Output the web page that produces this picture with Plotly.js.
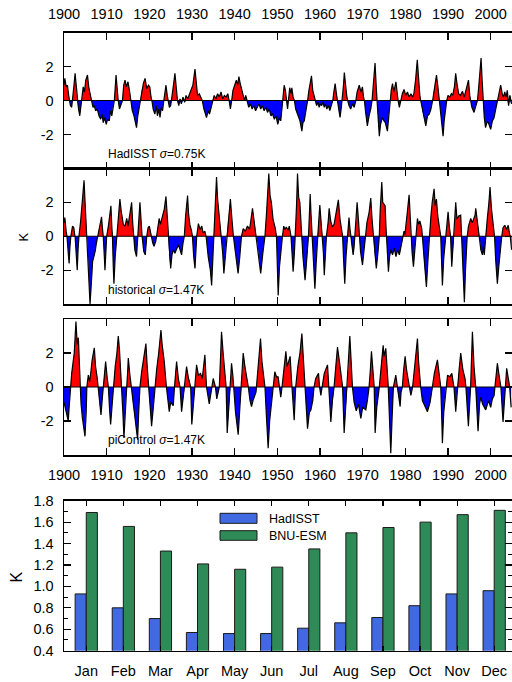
<!DOCTYPE html>
<html>
<head>
<meta charset="utf-8">
<script src="https://cdn.plot.ly/plotly-3.0.1.min.js"></script>
<style>html,body{margin:0;padding:0;background:#fff;}#chart{width:512px;height:682px;}</style>
</head>
<body>
<div id="chart"></div>
<script>
// ---------- data ----------
const yearTicks = [1900,1910,1920,1930,1940,1950,1960,1970,1980,1990,2000];
const yearLabels = ['1900','1910','1920','1930','1940','1950','1960','1970','1980','1990','2000'];
const kTicks = [-2,0,2];
const kLabels = ['-2','0','2'];

const hadYear = [
1900.0,1900.2,1900.5,1900.8,1901.1,1901.3,1901.5,1901.8,1902.0,1902.3,
1902.6,1902.9,1903.1,1903.4,1903.7,1904.0,1904.2,1904.5,1904.8,1905.1,
1905.5,1905.8,1906.2,1906.5,1906.8,1907.1,1907.4,1907.8,1908.2,1908.6,
1908.9,1909.2,1909.5,1909.9,1910.2,1910.6,1910.9,1911.2,1911.5,1911.8,
1912.2,1912.5,1912.7,1913.0,1913.4,1913.7,1914.0,1914.3,1914.6,1915.0,
1915.4,1915.7,1916.0,1916.4,1916.8,1917.0,1917.3,1917.6,1917.9,1918.2,
1918.6,1919.0,1919.4,1919.8,1920.1,1920.4,1920.6,1920.9,1921.3,1921.6,
1921.9,1922.2,1922.5,1922.8,1923.1,1923.4,1923.7,1923.9,1924.2,1924.4,
1924.7,1925.0,1925.2,1925.6,1926.0,1926.3,1926.6,1926.9,1927.2,1927.5,
1927.9,1928.3,1928.6,1929.0,1929.4,1929.8,1930.2,1930.7,1931.0,1931.3,
1931.7,1932.1,1932.4,1932.8,1933.1,1933.4,1933.8,1934.1,1934.5,1934.8,
1935.2,1935.6,1936.0,1936.4,1936.8,1937.2,1937.6,1938.0,1938.4,1938.7,
1939.0,1939.3,1939.6,1940.0,1940.4,1940.7,1941.0,1941.3,1941.6,1942.0,
1942.3,1942.6,1942.9,1943.3,1943.7,1944.1,1944.5,1944.9,1945.3,1945.7,
1946.1,1946.5,1946.9,1947.3,1947.7,1948.1,1948.5,1948.9,1949.3,1949.7,
1950.1,1950.5,1950.8,1951.1,1951.3,1951.6,1951.9,1952.1,1952.4,1952.6,
1952.9,1953.2,1953.4,1953.7,1954.0,1954.3,1954.7,1955.0,1955.3,1955.75,
1956.0,1956.3,1956.6,1956.9,1957.1,1957.4,1957.8,1958.0,1958.3,1958.6,
1958.9,1959.2,1959.5,1959.8,1960.1,1960.4,1960.7,1961.0,1961.3,1961.6,
1962.0,1962.3,1962.7,1963.0,1963.3,1963.55,1963.9,1964.1,1964.4,1964.7,
1965.0,1965.2,1965.5,1965.7,1966.0,1966.3,1966.5,1966.8,1967.2,1967.6,
1968.0,1968.4,1968.7,1969.2,1969.6,1969.95,1970.2,1970.4,1970.7,1971.1,
1971.5,1971.9,1972.2,1972.5,1972.9,1973.2,1973.4,1973.65,1973.9,1974.2,
1974.6,1975.0,1975.3,1975.8,1976.1,1976.4,1976.7,1977.0,1977.3,1977.8,
1978.1,1978.3,1978.6,1978.9,1979.3,1979.7,1980.1,1980.5,1980.9,1981.3,
1981.7,1982.0,1982.4,1982.8,1983.1,1983.4,1983.6,1984.0,1984.4,1984.8,
1985.2,1985.6,1986.0,1986.4,1986.7,1987.0,1987.3,1987.6,1987.9,1988.0,
1988.3,1988.6,1988.85,1989.1,1989.4,1989.7,1990.0,1990.4,1990.8,1991.1,
1991.5,1991.8,1992.1,1992.5,1992.9,1993.4,1993.8,1994.2,1994.8,1995.1,
1995.3,1995.6,1996.1,1996.5,1996.9,1997.2,1997.5,1997.75,1998.0,1998.2,
1998.5,1998.8,1999.2,1999.6,2000.0,2000.4,2000.8,2001.2,2001.6,2002.0,
2002.35,2002.7,2003.0,2003.3,2003.6,2003.9,2004.2,2004.5,2004.9];
const hadK = [
0.9,1.3,0.8,0.9,0.3,0,-0.3,-0.4,0,0.8,
1.6,0.7,0,-0.5,-0.9,-0.3,0,0.8,0.5,1.2,
1.5,0.8,0.3,0,-0.4,-0.3,-0.6,-0.5,-0.9,-1.1,
-0.8,-1.3,-1.0,-1.4,-1.1,-1.2,-0.6,-0.9,-0.3,0,
1.5,0.5,0,-0.5,-0.2,0,0.9,1.2,0.8,1.1,
0.5,0,-0.6,-0.9,-1.4,-1.6,-0.9,-0.4,0,0.6,
1.0,1.3,0.7,0.9,0.8,0.2,0,-0.5,-0.8,-0.3,
-0.9,-0.5,-1.0,-0.4,-0.6,0,0.5,0.9,0.3,0,
-0.4,-0.3,0,0.8,1.6,0.6,0,-0.3,0.1,-0.2,
0.2,-0.1,0.3,0.1,0.4,0.6,0.9,1.85,0.9,0.3,
0.4,0.2,0,-0.5,-0.8,-1.0,-0.6,-0.8,-0.4,0,
0.3,0.1,0.4,0.2,0.5,0.1,0.3,0.2,0.4,0,
-0.5,0,0.6,0.9,1.2,0.9,1.4,1.0,0.6,0.3,
0,0.3,0,-0.4,-0.2,-0.5,-0.3,-0.6,-0.4,-0.2,
-0.5,-0.3,-0.6,-0.4,-0.7,-0.5,-0.9,-0.8,-1.1,-0.9,
-1.4,-1.0,-1.2,-0.5,0,0.9,0.6,0,-0.5,0,
0.75,0.4,0.75,0.2,0,-0.5,-0.8,-1.0,-1.2,-1.8,
-1.3,-1.2,-0.8,-0.3,0,0.6,1.1,1.45,0.6,0.2,
0,-0.3,-0.1,-0.4,-0.2,-0.3,-0.1,-0.4,-0.2,-0.5,
-0.3,-0.6,-0.3,0,0.6,1.0,0.3,0,-0.6,-1.0,
-0.4,0,0.9,1.65,0.8,0.2,0,-0.3,-0.5,-0.2,
-0.4,0,0.5,0.9,0.5,0.8,0.2,0,-0.7,-1.5,
-0.9,-0.5,0,0.8,2.2,0.7,0,-1.2,-2.1,-1.4,
-1.0,-1.2,-1.3,-1.8,-1.0,0,0.6,1.0,0.5,1.1,
0.2,0,-0.4,0,0.4,0.65,0.3,0.5,0.2,0.4,
0.2,0.4,1.2,2.4,1.1,0.3,0,-0.6,-1.0,-1.5,
-0.9,-0.8,-0.5,0,0.6,1.1,1.5,0.9,0.2,0,
-0.8,-1.6,-2.1,-1.2,-0.5,0,0.3,0.2,0.4,0.3,
0.8,1.6,1.0,0.4,0.3,0.54,0.2,0.6,1.2,0.3,
0,-0.4,-0.7,-0.3,0,0.8,1.6,2.5,1.2,0,
-1.0,-1.6,-1.2,-1.4,-1.7,-1.2,-1.0,-0.5,0,0.5,
0.9,0.4,0.2,0.5,0.2,0.6,-0.3,0.3,-0.2];

const histYear = [
1900.0,1900.2,1900.5,1900.7,1901.0,1901.2,1901.4,1901.6,1902.0,1902.3,
1902.5,1902.6,1902.9,1903.1,1903.3,1903.5,1903.9,1904.2,1904.5,1904.7,
1904.9,1905.2,1905.4,1905.7,1905.9,1906.1,1906.4,1906.7,1907.0,1907.3,
1907.6,1907.9,1908.3,1908.6,1908.8,1909.0,1909.2,1909.45,1909.6,1909.8,
1910.0,1910.4,1910.7,1911.0,1911.2,1911.35,1911.55,1911.7,1912.0,1912.3,
1912.45,1912.8,1913.1,1913.4,1913.7,1913.9,1914.3,1914.7,1915.0,1915.4,
1915.85,1916.1,1916.3,1916.6,1917.0,1917.3,1917.6,1917.8,1918.1,1918.3,
1918.7,1919.05,1919.4,1919.7,1920.0,1920.3,1920.5,1920.8,1921.1,1921.5,
1921.7,1922.0,1922.3,1922.6,1923.0,1923.5,1923.9,1924.2,1924.4,1924.7,
1925.0,1925.3,1925.6,1926.0,1926.4,1926.8,1927.2,1927.56,1927.9,1928.2,
1928.5,1928.96,1929.2,1929.5,1929.9,1930.1,1930.4,1930.7,1931.0,1931.1,
1931.5,1931.9,1932.3,1932.6,1933.0,1933.3,1933.8,1934.3,1934.6,1934.9,
1935.1,1935.4,1935.75,1936.0,1936.4,1936.8,1936.9,1937.2,1937.47,1937.8,
1938.1,1938.5,1939.0,1939.3,1939.6,1939.7,1940.2,1940.8,1941.2,1941.6,
1942.0,1942.5,1943.0,1943.5,1944.18,1944.6,1945.0,1945.1,1945.6,1946.1,
1946.6,1947.1,1947.5,1948.0,1948.3,1948.6,1949.0,1949.5,1949.8,1950.0,
1950.2,1950.5,1950.8,1951.1,1951.2,1951.5,1951.8,1952.1,1952.5,1952.8,
1953.1,1953.2,1953.5,1953.7,1954.0,1954.2,1954.5,1954.73,1955.0,1955.28,
1955.5,1955.7,1956.0,1956.5,1956.9,1957.3,1957.5,1957.7,1957.9,1958.2,
1958.5,1958.8,1959.1,1959.4,1959.7,1959.96,1960.3,1960.6,1960.8,1961.0,
1961.3,1961.5,1961.9,1962.15,1962.5,1962.9,1963.3,1963.6,1964.0,1964.3,
1964.7,1965.1,1965.3,1965.55,1965.8,1966.1,1966.4,1966.6,1966.8,1967.0,
1967.2,1967.5,1967.77,1968.0,1968.2,1968.5,1968.7,1969.0,1969.2,1969.5,
1969.96,1970.3,1970.7,1971.0,1971.5,1971.9,1972.2,1972.5,1972.8,1973.2,
1973.6,1973.9,1974.1,1974.48,1974.7,1975.26,1975.5,1975.6,1975.8,1976.04,
1976.3,1976.6,1977.0,1977.4,1977.8,1978.2,1978.6,1979.0,1979.3,1979.5,
1979.7,1979.9,1980.1,1980.5,1980.88,1981.1,1981.3,1981.6,1981.9,1982.2,
1982.5,1982.7,1982.84,1983.1,1983.4,1983.85,1984.0,1984.4,1984.94,1985.3,
1985.6,1986.0,1986.3,1986.74,1987.0,1987.29,1987.6,1988.0,1988.3,1988.5,
1988.69,1989.0,1989.5,1989.8,1990.02,1990.3,1990.6,1990.88,1991.2,1991.4,
1991.6,1991.81,1992.1,1992.5,1992.98,1993.2,1993.5,1993.84,1994.1,1994.5,
1994.8,1995.33,1995.7,1996.34,1996.5,1996.8,1997.2,1997.4,1997.7,1998.06,
1998.3,1998.5,1998.8,1999.2,1999.6,1999.85,2000.2,2000.6,2000.9,2001.2,
2001.57,2001.9,2002.3,2002.6,2002.9,2003.3,2003.7,2004.1,2004.4,2004.6,
2004.9];
const histK = [
0.8,1.1,0.3,0,-1.0,-1.6,-0.6,0,0.6,0.5,
0.1,0,-1.2,-2.0,-0.8,0,0.9,1.8,2.8,3.3,
2.2,0.8,0,-1.6,-3.0,-4.0,-2.8,-1.5,-1.2,-0.9,
-0.4,0,0.6,0.8,1.15,0.5,0,-1.2,-2.0,-1.0,
0,0.6,1.2,1.8,0.6,0,-1.8,-2.8,-1.2,-0.3,
0,1.3,2.2,1.5,1.1,0.7,0.6,1.05,0.6,1.2,
2.0,0.8,0,-0.8,-1.2,0,1.3,2.0,0.8,0,
-0.9,-1.1,0,0.5,0.6,0.2,0,-0.4,-0.6,-0.3,
0,0.6,1.05,0.7,1.1,1.6,2.35,1.2,0,-1.3,
-1.9,-1.1,-0.8,-1.0,-0.7,-0.5,-0.8,-1.1,-0.4,0,
1.2,2.4,1.3,0.7,0.3,0,-1.2,-1.9,-0.5,0,
0.75,0.4,0.6,0.2,0.3,0,-1.2,-2.0,-2.9,-1.3,
0,1.6,3.5,2.2,1.2,0.3,0,-1.0,-2.2,-1.2,
0,1.0,2.2,1.2,0.2,0,-1.0,-2.2,-1.2,0,
0.45,0.3,0.6,0.4,1.65,0.8,0.3,0,-1.0,-2.2,
-1.0,0,1.5,3.7,2.4,2.0,1.0,0.5,0,-1.5,
-3.5,-1.8,-0.9,-0.3,0,0.6,0.4,0.55,0.35,0.6,
0.2,0,-1.2,-2.1,-1.0,0,1.8,3.7,2.3,2.0,
0.8,0,-1.2,-2.6,-1.5,0,1.2,2.5,1.3,0,
-1.5,-3.1,-1.6,0,0.9,1.85,0.8,0,-1.0,-2.3,
-1.0,0,0.8,1.65,0.9,0.55,0.7,1.2,1.6,2.15,
1.0,0.3,0,-1.5,-2.8,-1.2,0,0.6,1.1,0.5,
0,-0.7,-1.1,-0.6,0,1.0,2.0,1.0,0,-0.9,
-1.7,-0.8,0,0.8,1.4,2.25,1.0,0,-1.0,-1.9,
-0.9,0,1.5,3.2,2.0,1.8,0.4,0,-1.2,-2.1,
-1.2,-0.8,-1.1,-0.7,-1.2,-0.8,-1.1,-0.6,-0.3,0,
0.3,0.1,0.5,1.5,2.45,1.2,0,-1.0,-1.8,-0.8,
0,0.6,1.05,0.7,0.9,0.45,0,-1.5,-3.0,-1.4,
0,1.2,2.0,2.8,1.8,2.2,1.2,0.5,0,-1.5,
-2.9,-1.3,0,0.8,1.45,0.6,0,-1.8,-0.5,0,
1.0,2.0,1.0,1.2,1.25,0,-2.0,-3.9,-2.0,0,
0.6,1.05,0.8,1.25,1.65,1.0,0.3,0,-0.8,-1.1,
-0.6,-1.1,0,1.0,2.0,2.9,1.6,0.8,0,-1.5,
-2.8,-1.8,-0.5,0,0.5,0.65,0.4,0.65,0.2,0,
-0.8];

const piYear = [
1900.0,1900.3,1900.7,1901.0,1901.2,1901.5,1901.8,1902.0,1902.4,1902.8,
1903.1,1903.36,1903.6,1903.75,1904.0,1904.3,1904.6,1904.92,1905.2,1905.35,
1905.7,1906.0,1906.3,1906.6,1907.1,1907.4,1907.8,1908.0,1908.3,1908.67,
1909.0,1909.2,1909.5,1909.76,1910.1,1910.4,1910.7,1910.93,1911.3,1911.6,
1912.0,1912.4,1912.72,1913.0,1913.3,1913.5,1913.8,1914.05,1914.4,1914.7,
1914.9,1915.07,1915.4,1915.8,1916.2,1916.7,1917.25,1917.5,1917.8,1918.2,
1918.7,1919.2,1919.5,1919.8,1920.2,1920.53,1920.9,1921.3,1921.7,1922.2,
1922.72,1923.0,1923.5,1924.0,1924.67,1925.0,1925.6,1925.9,1926.1,1926.39,
1926.8,1927.2,1927.56,1928.0,1928.3,1928.73,1929.1,1929.45,1929.7,1929.95,
1930.4,1930.7,1931.07,1931.5,1932.0,1932.4,1933.02,1933.3,1933.4,1934.04,
1934.5,1934.7,1934.97,1935.3,1935.5,1935.8,1936.1,1936.4,1936.7,1936.92,
1937.3,1937.7,1938.0,1938.25,1938.6,1939.0,1939.27,1939.6,1939.8,1940.2,
1940.83,1941.2,1941.6,1942.0,1942.4,1942.9,1943.2,1943.6,1943.95,1944.3,
1944.73,1945.0,1945.1,1945.5,1946.06,1946.4,1946.8,1947.1,1947.5,1947.85,
1948.2,1948.6,1949.0,1949.41,1949.8,1950.19,1950.5,1950.8,1951.1,1951.5,
1952.0,1952.3,1953.0,1953.3,1953.45,1953.8,1953.95,1954.2,1954.3,1954.8,
1955.3,1955.75,1956.1,1956.5,1957.08,1957.5,1957.86,1958.3,1958.6,1959.0,
1959.65,1959.9,1960.2,1960.5,1961.0,1961.76,1962.0,1962.1,1962.54,1962.9,
1963.3,1963.7,1964.1,1964.6,1965.0,1965.3,1965.66,1966.0,1966.4,1966.7,
1966.99,1967.3,1967.6,1968.0,1968.5,1969.0,1969.57,1970.0,1970.74,1971.1,
1971.5,1971.8,1972.06,1972.4,1972.7,1972.92,1973.3,1973.9,1974.3,1974.8,
1975.0,1975.42,1975.7,1976.0,1976.3,1976.59,1976.9,1977.2,1977.76,1978.0,
1978.1,1978.78,1979.0,1979.3,1979.6,1979.95,1980.3,1980.6,1980.9,1981.3,
1981.7,1982.2,1982.84,1983.1,1983.4,1983.6,1984.0,1985.18,1985.8,1986.4,
1986.8,1987.52,1988.0,1988.3,1988.5,1988.69,1989.0,1989.5,1989.9,1990.4,
1990.9,1991.2,1991.4,1991.81,1992.2,1992.6,1992.98,1993.5,1994.0,1994.2,
1994.78,1995.1,1995.3,1995.72,1996.1,1996.5,1997.04,1997.4,1997.7,1998.1,
1998.84,1999.5,2000.0,2000.4,2000.8,2001.0,2001.57,2001.9,2002.4,2002.9,
2003.3,2003.45,2003.75,2004.2,2004.45,2004.8];
const piK = [
-0.9,-1.3,-1.6,-2.0,-1.2,0,0.8,1.2,2.0,3.85,
2.5,2.9,1.0,0,-1.0,-1.8,-2.4,-2.9,-1.5,0,
0.7,0.3,0.9,1.6,2.3,1.2,0.5,0,-0.9,-1.65,
-0.6,0,0.9,1.5,0.6,0,-1.4,-2.2,-1.0,0,
1.2,2.0,3.0,2.2,1.0,0,-1.5,-3.0,-1.0,0,
0.8,1.7,0.8,0,-1.0,-2.0,-3.1,-1.5,0,0.9,
1.8,2.55,1.2,0,-1.2,-2.3,-1.3,0,1.0,2.0,
3.35,2.5,1.5,0,-1.45,-0.9,-1.1,0,0.8,1.5,
0.5,0,-1.45,-0.5,0,1.2,0.6,0.3,0,-2.2,
-0.8,0,1.3,0.7,0.8,0.5,1.9,0.5,0,-1.0,
-0.3,0,0.5,0.2,0,-0.7,-0.3,0,1.8,3.25,
2.0,0.9,0,-2.7,-1.3,0,1.4,0.6,0,-1.5,
-2.8,-1.2,0,2.0,1.2,0.5,0,-0.8,-1.15,-0.8,
-0.55,-0.3,0,1.2,2.85,1.5,0.6,0,-2.0,-3.6,
-2.0,-1.0,0,0.9,0.6,0.6,0,-0.6,0,1.0,
2.1,1.2,1.8,0.5,0,-1.2,-1.95,-0.5,0,1.2,
2.0,3.15,1.6,0,-2.45,-1.5,-1.35,-0.8,0,0.5,
0.8,0,-0.5,0,0.8,1.3,0.4,0,-2.05,-0.8,
0,1.2,2.35,1.4,0.6,0,-2.7,-1.2,0,1.5,
3.0,1.5,0,-0.9,-1.4,-1.0,-1.85,-1.2,-1.35,-0.8,
0,1.0,2.1,1.0,0,-2.7,-1.2,0,1.2,2.45,
1.8,2.27,1.2,0,-2.0,-3.9,-1.8,0,0.7,0.2,
0,-1.15,-0.3,0,1.0,1.8,1.0,0.6,0,-0.5,
0,1.2,2.85,1.5,0.5,0,-0.8,-1.45,-0.9,0,
0.8,1.6,0.6,0,-1.5,-3.3,-1.5,0,0.7,0.6,
0.8,0.3,0,-1.45,0,1.0,2.0,1.0,0.5,0,
-2.3,-0.8,0,3.25,1.2,0,-2.6,-1.0,-0.6,-1.0,
-1.35,-0.8,-1.2,-0.7,-0.5,0,1.4,0.8,0,-2.05,
-0.8,0,1.1,0.4,0,-1.2];

const months = ['Jan','Feb','Mar','Apr','May','Jun','Jul','Aug','Sep','Oct','Nov','Dec'];
const hadStd = [0.93,0.80,0.70,0.57,0.56,0.56,0.61,0.66,0.71,0.82,0.93,0.96];
const bnuStd = [1.69,1.56,1.33,1.21,1.16,1.18,1.35,1.50,1.55,1.60,1.67,1.71];
const barTicks = [0.4,0.6,0.8,1.0,1.2,1.4,1.6,1.8];
const panelNames = ['HadISST','historical','piControl'];
const panelSigma = ['0.75K','1.47K','1.47K'];

// ---------- layout helpers ----------
const H = 682, L = 64, PW = 448;
const py = p => 1 - p / H;
const px = p => (p - L) / PW;
const FONT = 'Liberation Sans, Arial, Helvetica, sans-serif';

const series = [[hadYear, hadK], [histYear, histK], [piYear, piK]];
const traces = [];
series.forEach((s, i) => {
  const ax = i === 0 ? '' : String(i + 1);
  const pos = s[1].map(v => Math.max(v, 0));
  const neg = s[1].map(v => Math.min(v, 0));
  traces.push({x: s[0], y: pos, xaxis: 'x' + ax, yaxis: 'y' + ax, type: 'scatter', mode: 'lines',
    fill: 'tozeroy', fillcolor: '#ff0000', line: {width: 0, color: '#ff0000'}, hoverinfo: 'skip'});
  traces.push({x: s[0], y: neg, xaxis: 'x' + ax, yaxis: 'y' + ax, type: 'scatter', mode: 'lines',
    fill: 'tozeroy', fillcolor: '#0000ff', line: {width: 0, color: '#0000ff'}, hoverinfo: 'skip'});
  traces.push({x: s[0], y: s[1], xaxis: 'x' + ax, yaxis: 'y' + ax, type: 'scatter', mode: 'lines',
    line: {width: 1.2, color: '#000'}, hoverinfo: 'skip'});
});
traces.push({x: months, y: hadStd, type: 'bar', xaxis: 'x4', yaxis: 'y4', name: 'HadISST',
  marker: {color: '#4169e1', line: {color: '#1a1a1a', width: 1}}});
traces.push({x: months, y: bnuStd, type: 'bar', xaxis: 'x4', yaxis: 'y4', name: 'BNU-ESM',
  marker: {color: '#2e8b57', line: {color: '#1a1a1a', width: 1}}});

const tsX = (extra) => Object.assign({
  range: [1900, 2005], tickvals: yearTicks, ticktext: yearLabels, ticks: 'inside', ticklen: 7,
  tickwidth: 1.2, tickcolor: '#000', mirror: 'allticks', showline: true, linecolor: '#000', linewidth: 1.5,
  showgrid: false, zeroline: false, tickfont: {size: 14.5, family: FONT, color: '#000'}, fixedrange: true
}, extra);
const tsY = (extra) => Object.assign({
  range: [-4, 4], tickvals: kTicks, ticktext: kLabels, ticks: 'inside', ticklen: 7,
  tickwidth: 1.2, tickcolor: '#000', mirror: 'allticks', showline: true, linecolor: '#000', linewidth: 1.5,
  showgrid: false, zeroline: false, tickfont: {size: 14.5, family: FONT, color: '#000'}, ticklabelstandoff: 6, fixedrange: true
}, extra);

const shapes = [];
['y', 'y2', 'y3'].forEach((ya, i) => {
  shapes.push({type: 'line', xref: (i === 0 ? 'x' : 'x' + (i + 1)) + ' domain', yref: ya, x0: 0, x1: 1, y0: 0, y1: 0,
    line: {color: '#000', width: 1}});
});
// legend swatches
shapes.push({type: 'rect', xref: 'paper', yref: 'paper', x0: px(220), x1: px(257), y0: py(523.3), y1: py(513.3),
  fillcolor: '#4169e1', line: {color: '#1a1a1a', width: 1}});
shapes.push({type: 'rect', xref: 'paper', yref: 'paper', x0: px(220), x1: px(257), y0: py(540.3), y1: py(530.7),
  fillcolor: '#2e8b57', line: {color: '#1a1a1a', width: 1}});

const annotations = [];
const labelY = [154, 290, 440];
panelNames.forEach((n, i) => {
  annotations.push({xref: 'paper', yref: 'paper', x: px(105.5), y: py(labelY[i]), xanchor: 'left', yanchor: 'middle',
    showarrow: false, text: n + ' <i>σ</i>=' + panelSigma[i], font: {size: 12, family: FONT, color: '#000'}});
});
annotations.push({xref: 'paper', yref: 'paper', x: px(266.5), y: py(518.5), xanchor: 'left', yanchor: 'middle',
  showarrow: false, text: 'HadISST', font: {size: 12.5, family: FONT, color: '#000'}});
annotations.push({xref: 'paper', yref: 'paper', x: px(266.5), y: py(535.5), xanchor: 'left', yanchor: 'middle',
  showarrow: false, text: 'BNU-ESM', font: {size: 12.5, family: FONT, color: '#000'}});
annotations.push({xref: 'paper', yref: 'paper', x: px(22.5), y: py(237), xanchor: 'center', yanchor: 'middle',
  showarrow: false, text: 'K', textangle: -90, font: {size: 13, family: FONT, color: '#000'}});
annotations.push({xref: 'paper', yref: 'paper', x: px(15.5), y: py(577), xanchor: 'center', yanchor: 'middle',
  showarrow: false, text: 'K', textangle: -90, font: {size: 16, family: FONT, color: '#000'}});

const layout = {
  width: 512, height: 682,
  margin: {l: L, r: 0, t: 0, b: 0, pad: 0},
  paper_bgcolor: '#fff', plot_bgcolor: '#fff',
  showlegend: false,
  font: {family: FONT, color: '#000'},
  barmode: 'group', bargap: 0.4, bargroupgap: 0,
  xaxis: tsX({anchor: 'y', side: 'top', ticklabelstandoff: 6}),
  yaxis: tsY({anchor: 'x', domain: [py(168.5), py(32.5)]}),
  xaxis2: tsX({anchor: 'y2', showticklabels: false}),
  yaxis2: tsY({anchor: 'x2', domain: [py(304), py(168.5)]}),
  xaxis3: tsX({anchor: 'y3', ticklabelstandoff: 6}),
  yaxis3: tsY({anchor: 'x3', domain: [py(455), py(319)]}),
  xaxis4: {anchor: 'y4', type: 'category', range: [-0.6, 11.48], ticks: 'inside', ticklen: 5, tickwidth: 1.2,
    tickcolor: '#000', mirror: 'allticks', showline: true, linecolor: '#000', linewidth: 1.5, showgrid: false,
    tickfont: {size: 14.5, family: FONT, color: '#000'}, ticklabelstandoff: 6, fixedrange: true},
  yaxis4: {anchor: 'x4', domain: [py(650.7), py(500.7)], range: [0.4, 1.8], tickvals: barTicks, tickformat: '.1f',
    ticks: 'inside', ticklen: 7, tickwidth: 1.2, tickcolor: '#000', mirror: 'allticks', showline: true,
    linecolor: '#000', linewidth: 1.5, showgrid: false, zeroline: false,
    minor: {dtick: 0.1, tick0: 0.4, ticks: 'inside', ticklen: 4, tickwidth: 1, tickcolor: '#000'},
    tickfont: {size: 14.5, family: FONT, color: '#000'}, ticklabelstandoff: 6, fixedrange: true},
  shapes: shapes,
  annotations: annotations
};

Plotly.newPlot('chart', traces, layout, {staticPlot: true, displayModeBar: false});
</script>
</body>
</html>
